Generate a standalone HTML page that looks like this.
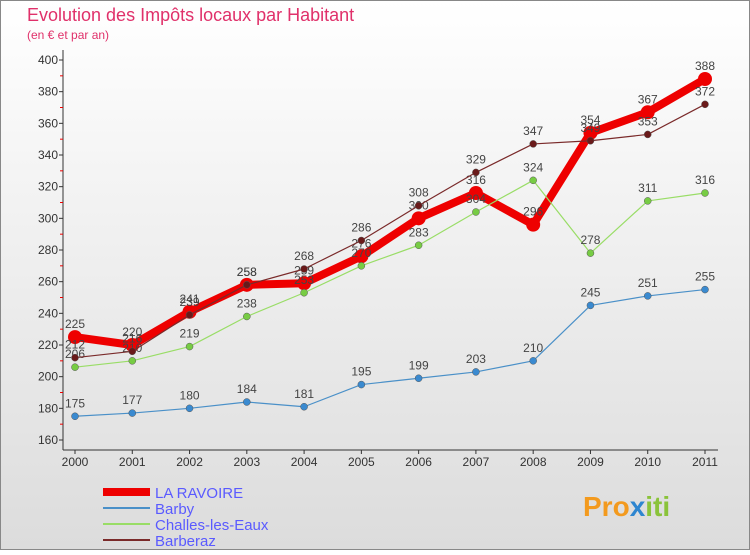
<!DOCTYPE html>
<html><head><meta charset="utf-8"><style>
body{margin:0;width:750px;height:550px;overflow:hidden;font-family:"Liberation Sans",sans-serif;}
</style></head><body>
<svg width="750" height="550" xmlns="http://www.w3.org/2000/svg">
<defs><linearGradient id="bg" x1="0" y1="0" x2="0" y2="1"><stop offset="0" stop-color="#ffffff"/><stop offset="1" stop-color="#dcdcdc"/></linearGradient></defs>
<rect x="0.5" y="0.5" width="749" height="549" fill="url(#bg)" stroke="#888"/>
<text x="27" y="21" font-size="18" fill="#e0306a">Evolution des Impôts locaux par Habitant</text>
<text x="27" y="39" font-size="12" fill="#e0306a">(en € et par an)</text>
<g id="axes"></g>
<g id="series"></g>
<g id="legend"></g>
<text x="583" y="516" font-size="28" font-weight="bold" fill="#f39a1e">Pro<tspan fill="#2e86d0">x</tspan><tspan fill="#8ac33a">iti</tspan></text>
</svg>
<script>
const years=[2000,2001,2002,2003,2004,2005,2006,2007,2008,2009,2010,2011];
const yTicks=[160,180,200,220,240,260,280,300,320,340,360,380,400];
const names=["LA RAVOIRE","Barby","Challes-les-Eaux","Barberaz"];
const ravoire=[225,220,241,258,259,276,300,316,296,354,367,388];
const barby=[175,177,180,184,181,195,199,203,210,245,251,255];
const challes=[206,210,219,238,253,270,283,304,324,278,311,316];
const barberaz=[212,216,239,258,268,286,308,329,347,349,353,372];
const NS="http://www.w3.org/2000/svg";
const xS=i=>75+i*(630/11);
const yS=v=>440-(v-160)*(380/240);
function mk(tag,at,parent){const e=document.createElementNS(NS,tag);for(const k in at)e.setAttribute(k,at[k]);parent.appendChild(e);return e;}
const ax=document.getElementById('axes');
let l=mk('line',{x1:63,y1:50,x2:63,y2:450,stroke:'#333'},ax);


l=mk('line',{x1:63,y1:450,x2:718,y2:450,stroke:'#333'},ax);


yTicks.forEach(v=>{
 const t=mk('text',{x:58,y:yS(v)+4,'text-anchor':'end','font-size':12,fill:'#333'},ax);t.textContent=v;
 
 
 const tk=mk('line',{x1:59,y1:yS(v),x2:63,y2:yS(v),stroke:'#333'},ax);
 
 
 if(v<400){const m=mk('line',{x1:60,y1:yS(v+10),x2:63,y2:yS(v+10),stroke:'#e00'},ax);
 
 }
});
years.forEach((y,i)=>{
 const t=mk('text',{x:xS(i),y:466,'text-anchor':'middle','font-size':12,fill:'#333'},ax);t.textContent=y;
 
 
 const tk=mk('line',{x1:xS(i),y1:450,x2:xS(i),y2:454,stroke:'#333'},ax);
 
 
});
const sers=[
 {d:barby,c:'#4a90c8',w:1.2,r:3.5,fc:'#3a8ad0',n:'barby'},
 {d:challes,c:'#99dd66',w:1.2,r:3.5,fc:'#77cc44',n:'challes'},
 {d:barberaz,c:'#7a2a2a',w:1.2,r:3.5,fc:'#6a1a1a',n:'barberaz'},
 {d:ravoire,c:'#ee0000',w:8,r:7,fc:'#ee0000',n:'ravoire'}];
const sg=document.getElementById('series');
const order=[3,0,1,2];
order.forEach(k=>{const s=sers[k];
 const p=mk('polyline',{points:s.d.map((v,i)=>xS(i)+','+yS(v)).join(' '),fill:'none',stroke:s.c,'stroke-width':s.w,'stroke-linejoin':'round'},sg);
 
 
 s.d.forEach((v,i)=>{
  const c=mk('circle',{cx:xS(i),cy:yS(v),r:s.r,fill:s.fc,stroke:k==3?'none':'#555','stroke-width':0.5},sg);
  
  
  const t=mk('text',{x:xS(i),y:yS(v)-9,'text-anchor':'middle','font-size':12,fill:'#444'},sg);t.textContent=v;
  
  
 });
});
const lg=document.getElementById('legend');
const lc=[['#ee0000',8],['#4a90c8',2],['#99dd66',2],['#7a2a2a',2]];
names.forEach((n,i)=>{const y=492+i*16;
 const ln=mk('line',{x1:103,y1:y,x2:150,y2:y,stroke:lc[i][0],'stroke-width':lc[i][1]},lg);
 
 
 const t=mk('text',{x:155,y:y+6,'font-size':15,fill:'#5a5aff'},lg);t.textContent=n;
 
 
});
</script>
</body></html>
